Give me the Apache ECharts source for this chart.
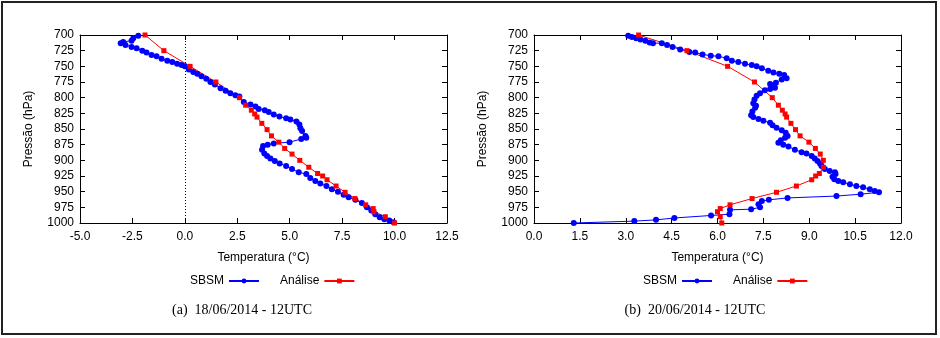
<!DOCTYPE html>
<html>
<head>
<meta charset="utf-8">
<script src="https://cdn.jsdelivr.net/npm/echarts@6/dist/echarts.min.js"></script>
<style>
    html, body { margin: 0; padding: 0; background: #fff; }
    #main { width: 940px; height: 338px; }
</style>
</head>
<body>
<div id="main"></div>
<script>
// níveis de pressão da análise (hPa), comuns aos dois dias
var analiseLevels = [700, 725, 750, 775, 800, 812, 820, 826, 831, 841, 851, 861, 871, 881,
    890, 900, 911, 921, 925, 931, 941, 951, 961, 971, 977, 982, 990, 1000];

// (a) 18/06/2014 - 12UTC
var analiseTemp18 = [-1.9, -1.0, 0.25, 1.48, 2.6, 2.9, 3.17, 3.33, 3.44, 3.67, 3.92, 4.13, 4.48, 4.76,
    5.11, 5.48, 5.91, 6.33, 6.57, 6.78, 7.21, 7.64, 8.11, 8.62, 8.98, 9.02, 9.56, 10.0];
var sbsmPres18 = [701, 705, 709, 711, 713, 716, 719, 721, 725, 728, 732, 734, 738, 741, 743, 746, 748, 750,
    755, 759, 762, 766, 770, 775, 779, 785, 789, 793, 796, 798, 807, 811, 814, 818, 820, 823, 827, 830,
    833, 835, 838, 843, 849, 853, 861, 864, 866, 871, 873, 875, 877, 883, 889, 893, 897, 901, 905, 909,
    914, 919, 922, 928, 933, 937, 941, 946, 950, 955, 959, 963, 968, 975, 980, 986, 991, 994, 996, 999];
var sbsmTemp18 = [-2.22, -2.46, -2.54, -2.94, -3.06, -2.83, -2.54, -2.30, -2.03, -1.83, -1.59, -1.35, -1.11,
    -0.84, -0.60, -0.37, -0.16, 0.00, 0.19, 0.40, 0.59, 0.79, 1.02, 1.22, 1.43, 1.70, 1.94, 2.17, 2.41, 2.60,
    2.81, 3.13, 3.37, 3.52, 3.81, 4.00, 4.24, 4.51, 4.83, 5.03, 5.32, 5.46, 5.51, 5.59, 5.75, 5.79, 5.55,
    4.99, 4.24, 3.95, 3.73, 3.68, 3.79, 3.92, 4.08, 4.29, 4.52, 4.83, 5.11, 5.43, 5.79, 5.98, 6.22, 6.46,
    6.75, 7.01, 7.30, 7.57, 7.81, 8.13, 8.44, 8.68, 8.89, 9.08, 9.29, 9.51, 9.75, 9.95];

// (b) 20/06/2014 - 12UTC
var analiseTemp20 = [3.42, 5.0, 6.33, 7.21, 7.79, 7.99, 8.12, 8.21, 8.26, 8.40, 8.55, 8.70, 8.99, 9.20,
    9.36, 9.46, 9.46, 9.33, 9.21, 9.08, 8.58, 7.93, 7.13, 6.41, 6.09, 6.0, 6.09, 6.14];
var sbsmPres20 = [701, 703, 705, 707, 709, 712, 713, 713, 716, 719, 723, 727, 728, 731, 733, 734, 737, 741,
    743, 746, 748, 750, 753, 757, 760, 762, 764, 769, 771, 776, 778, 780, 784, 786, 788, 793, 797, 803,
    809, 813, 816, 822, 828, 831, 834, 837, 840, 844, 848, 852, 856, 861, 864, 868, 872, 875, 878, 883,
    887, 889, 893, 897, 901, 905, 909, 914, 917, 919, 922, 926, 930, 933, 935, 938, 941, 943, 946, 949,
    951, 954, 957, 960, 963, 965, 970, 975, 978, 979, 986, 988, 992, 995, 997, 1000];
var sbsmTemp20 = [3.08, 3.20, 3.34, 3.48, 3.64, 3.78, 3.89, 4.18, 4.35, 4.53, 4.78, 5.08, 5.27, 5.51, 5.78,
    6.03, 6.30, 6.47, 6.68, 6.90, 7.12, 7.28, 7.45, 7.66, 7.83, 8.02, 8.18, 8.26, 8.10, 7.91, 7.72, 7.83,
    7.88, 7.72, 7.55, 7.39, 7.28, 7.21, 7.17, 7.26, 7.23, 7.14, 7.10, 7.17, 7.34, 7.50, 7.72, 7.80, 7.93,
    8.10, 8.23, 8.29, 8.21, 8.07, 7.99, 8.15, 8.32, 8.53, 8.75, 8.91, 9.08, 9.18, 9.27, 9.35, 9.40, 9.51,
    9.67, 9.84, 9.86, 9.76, 9.82, 9.95, 10.11, 10.33, 10.54, 10.76, 10.98, 11.14, 11.28, 10.68, 9.89,
    8.29, 7.68, 7.45, 7.34, 7.39, 7.10, 6.41, 6.39, 5.79, 4.59, 3.99, 3.28, 1.30];

// eixos: [min, max, intervalo]
var presTicks = [700, 1000, 25];
var tempTicks18 = [-5, 12.5, 2.5];
var tempTicks20 = [0, 12, 1.5];

var legendNames = ['SBSM', 'Análise'];
var captions = ['(a)  18/06/2014 - 12UTC', '(b)  20/06/2014 - 12UTC'];

var FONT = 'Liberation Sans, Arial, sans-serif';

function pairs(xs, ys) {
    var out = [];
    for (var i = 0; i < xs.length; i++) {
        out.push([xs[i], ys[i]]);
    }
    return out;
}

function tempAxis(gridIndex, ticks, position, main) {
    return {
        type: 'value',
        gridIndex: gridIndex,
        position: position,
        min: ticks[0],
        max: ticks[1],
        interval: ticks[2],
        name: main ? 'Temperatura (°C)' : '',
        nameLocation: 'middle',
        nameGap: 29,
        nameTextStyle: {color: '#000', fontSize: 12, fontFamily: FONT},
        axisLine: {show: true, onZero: false, lineStyle: {color: '#000', width: 1}},
        axisTick: {show: true, inside: true, length: 5, lineStyle: {color: '#000'}},
        axisLabel: {
            show: main,
            margin: 8,
            color: '#000',
            fontSize: 12,
            fontFamily: FONT,
            formatter: function (v) { return v.toFixed(1); }
        },
        splitLine: {show: false}
    };
}

function presAxis(gridIndex, position, main) {
    return {
        type: 'value',
        gridIndex: gridIndex,
        position: position,
        inverse: true,
        min: presTicks[0],
        max: presTicks[1],
        interval: presTicks[2],
        name: main ? 'Pressão (hPa)' : '',
        nameLocation: 'middle',
        nameGap: 45,
        nameTextStyle: {color: '#000', fontSize: 12, fontFamily: FONT},
        axisLine: {show: true, onZero: false, lineStyle: {color: '#000', width: 1}},
        axisTick: {show: true, inside: true, length: 5, lineStyle: {color: '#000'}},
        axisLabel: {
            show: main,
            margin: 6,
            color: '#000',
            fontSize: 12,
            fontFamily: FONT,
            formatter: function (v) { return String(v); }
        },
        splitLine: {show: false}
    };
}

function profileSeries(name, axisIndex, data, color, symbol, size) {
    return {
        name: name,
        type: 'line',
        xAxisIndex: axisIndex,
        yAxisIndex: axisIndex,
        data: data,
        symbol: symbol,
        symbolSize: size,
        showAllSymbol: true,
        animation: false,
        itemStyle: {color: color},
        lineStyle: {color: color, width: 1}
    };
}

function legendFor(left) {
    return {
        left: left,
        top: 270,
        align: 'right',
        itemWidth: 30,
        itemHeight: 6,
        itemGap: 20,
        textStyle: {color: '#000', fontSize: 12, fontFamily: FONT},
        data: legendNames
    };
}

function captionText(cx, text) {
    return {
        type: 'text',
        x: cx,
        y: 310,
        style: {
            text: text,
            fill: '#000',
            font: '14px "Liberation Serif", "Times New Roman", serif',
            align: 'center',
            verticalAlign: 'middle'
        }
    };
}

var chart = echarts.init(document.getElementById('main'), null, {renderer: 'canvas'});

var sbsm18 = profileSeries('SBSM', 0, pairs(sbsmTemp18, sbsmPres18), '#0000ff', 'circle', 6);
// linha vertical pontilhada em 0 °C
sbsm18.markLine = {
    silent: true,
    symbol: ['none', 'none'],
    label: {show: false},
    lineStyle: {color: '#000', type: [1, 2], width: 1},
    data: [{xAxis: 0}]
};

var option = {
    backgroundColor: '#fff',
    animation: false,
    grid: [
        {left: 80, top: 35, width: 367, height: 188},
        {left: 534, top: 35, width: 367, height: 188}
    ],
    xAxis: [
        tempAxis(0, tempTicks18, 'bottom', true),
        tempAxis(1, tempTicks20, 'bottom', true),
        tempAxis(0, tempTicks18, 'top', false),
        tempAxis(1, tempTicks20, 'top', false)
    ],
    yAxis: [
        presAxis(0, 'left', true),
        presAxis(1, 'left', true),
        presAxis(0, 'right', false),
        presAxis(1, 'right', false)
    ],
    legend: [legendFor(185), legendFor(638)],
    series: [
        sbsm18,
        profileSeries('Análise', 0, pairs(analiseTemp18, analiseLevels), '#ff0000', 'rect', 5),
        profileSeries('SBSM', 1, pairs(sbsmTemp20, sbsmPres20), '#0000ff', 'circle', 6),
        profileSeries('Análise', 1, pairs(analiseTemp20, analiseLevels), '#ff0000', 'rect', 5)
    ],
    graphic: [
        {
            type: 'rect',
            shape: {x: 2, y: 2, width: 934, height: 332},
            style: {fill: 'none', stroke: '#222', lineWidth: 2},
            silent: true
        },
        captionText(242, captions[0]),
        captionText(695, captions[1])
    ]
};

chart.setOption(option);

window.addEventListener('resize', function () {
    chart.resize();
});
</script>
</body>
</html>
